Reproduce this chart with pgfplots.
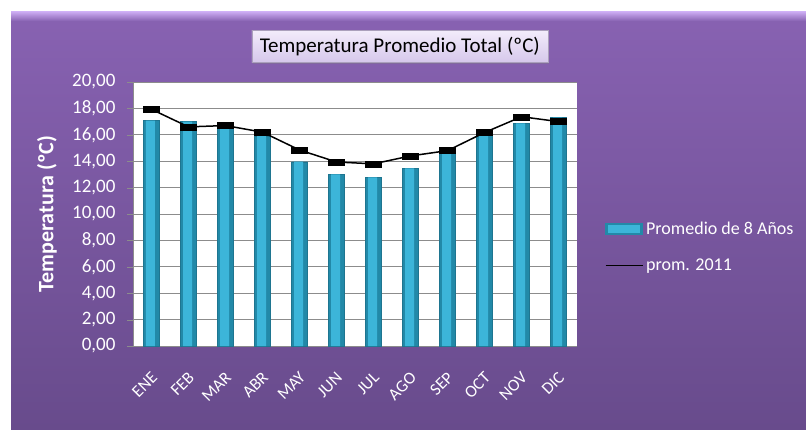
\documentclass[border=0pt]{standalone}
\usepackage{fontspec}
\setmainfont{Carlito}
\usepackage{pgfplots}
\pgfplotsset{compat=1.18}
\usetikzlibrary{shadows}

\definecolor{bgtop}{HTML}{8862B2}
\definecolor{bgbot}{HTML}{684B8C}
\definecolor{bgstripe}{HTML}{C9A9F0}
\definecolor{barmid}{HTML}{3CB5D9}
\definecolor{baredge}{HTML}{2289A8}
\definecolor{barline}{HTML}{1E7590}
\definecolor{gridgray}{HTML}{8C8C8C}
\definecolor{titletop}{HTML}{F3ECFB}
\definecolor{titlebot}{HTML}{D6C8EB}

\pgfplotsset{
  barlegend/.style={legend image code/.code={%
      \fill[baredge] (0pt,-5.5pt) rectangle (37pt,5.5pt);
      \fill[barmid] (3pt,-3.5pt) rectangle (34pt,3.5pt);}},
  linelegend/.style={legend image code/.code={\draw[black, line width=1pt] (0pt,0pt) -- (37pt,0pt);}},
}

\begin{document}
\begin{tikzpicture}
% frame and background
\fill[white] (0pt,0pt) rectangle (806pt,429pt);
\fill[top color=bgtop, bottom color=bgbot] (11pt,0pt) rectangle (806pt,417pt);
\fill[top color=bgstripe, bottom color=bgtop] (11pt,408pt) rectangle (806pt,417pt);

\begin{axis}[
    at={(133pt,83pt)}, anchor=south west,
    scale only axis,
    width=444pt, height=264pt,
    xmin=-0.5, xmax=11.5,
    ymin=0, ymax=20,
    xtick={0,...,11},
    xticklabels={ENE,FEB,MAR,ABR,MAY,JUN,JUL,AGO,SEP,OCT,NOV,DIC},
    ytick={0,2,...,20},
    axis background/.style={fill=white},
    axis x line=bottom, axis y line=left,
    axis line style={-, draw=gridgray},
    ymajorgrids, grid style={gridgray, line width=0.8pt},
    xtick style={draw=none},
    ytick style={draw=gridgray},
    tick align=outside, major tick length=6pt,
    /pgf/number format/.cd, fixed, fixed zerofill, precision=2, use comma, assume math mode=true,
    /pgfplots/.cd,
    yticklabel style={text=white, font=\fontsize{19}{21}\selectfont, xshift=-8pt},
    xticklabel style={text=white, font=\fontsize{17}{19}\selectfont,
        xshift=-1pt, yshift=-14pt, rotate=45, anchor=north east},
    ylabel={Temperatura (ºC)},
    every axis y label/.style={at={(axis description cs:-0.194,0.5)}, rotate=90, anchor=center,
        text=white, font=\bfseries\fontsize{22}{24}\selectfont},
    title={Temperatura Promedio Total (ºC)},
    every axis title/.style={at={(axis description cs:0.601,1.136)}, anchor=center,
        font=\fontsize{21}{23}\selectfont, text=black,
        top color=titletop, bottom color=titlebot, draw=titlebot!80!black,
        minimum width=296pt, minimum height=32pt, inner sep=2pt,
        drop shadow={opacity=0.35, shadow xshift=1.5pt, shadow yshift=-2pt}},
    legend style={at={(axis description cs:1.063,0.375)}, anchor=west,
        draw=none, fill=none, text=white, inner sep=0pt,
        font=\fontsize{18}{20}\selectfont, row sep=19pt,
        nodes={inner xsep=3pt}},
    legend cell align=left,
]
% outer (darker) part of the bars
\addplot[ybar, bar width=16pt, bar shift=0pt, fill=baredge, draw=barline, barlegend]
    coordinates {
    (0,17.07) (1,17.00) (2,16.90) (3,15.90) (4,13.96) (5,13.00)
    (6,12.78) (7,13.46) (8,14.60) (9,16.00) (10,16.87) (11,17.30)
};
\addlegendentry{Promedio de 8 Años}
% lighter core of the same bars
\addplot[ybar, bar width=9pt, bar shift=-1pt, fill=barmid, draw=none, forget plot]
    coordinates {
    (0,17.07) (1,17.00) (2,16.90) (3,15.90) (4,13.96) (5,13.00)
    (6,12.78) (7,13.46) (8,14.60) (9,16.00) (10,16.87) (11,17.30)
};
\addplot[sharp plot, black, line width=1.5pt,
    mark=square*, mark size=3pt, mark options={fill=black, line width=0.4pt, xscale=2.7}, linelegend]
    coordinates {
    (0,17.93) (1,16.60) (2,16.70) (3,16.20) (4,14.85) (5,13.94)
    (6,13.80) (7,14.40) (8,14.80) (9,16.17) (10,17.37) (11,17.00)
};
\addlegendentry{prom. 2011}
\end{axis}
\end{tikzpicture}
\end{document}
